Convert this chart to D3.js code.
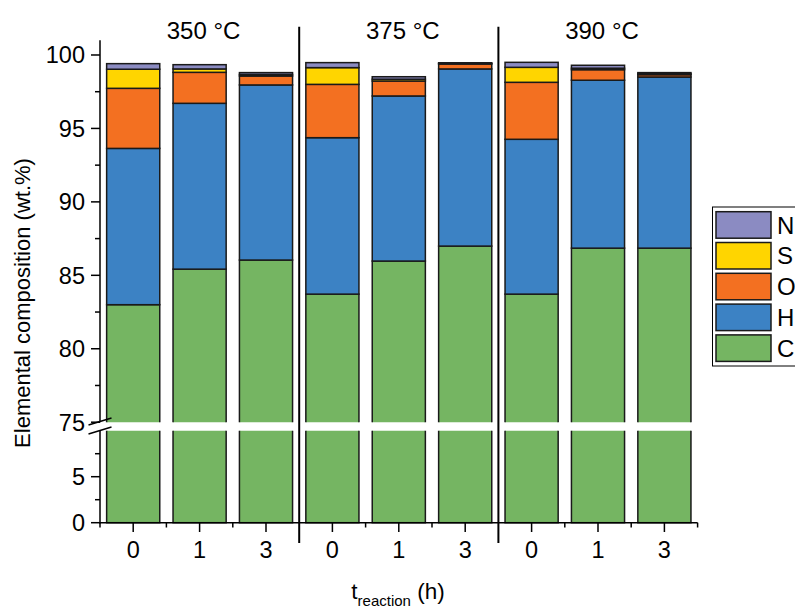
<!DOCTYPE html>
<html>
<head>
<meta charset="utf-8">
<script src="https://cdn.jsdelivr.net/npm/d3@7"></script>
<style>
  html, body { margin: 0; padding: 0; background: #fff; }
  svg { display: block; font-family: "Liberation Sans", Arial, sans-serif; }
</style>
</head>
<body>
<svg id="chart" width="795" height="608"></svg>
<script>
// ---- data ----
const temps = ["350 °C", "375 °C", "390 °C"];
const times = ["0", "1", "3"];
const elements = ["C", "H", "O", "S", "N"];
const C = [83.00, 85.42, 86.04, 83.72, 85.97, 86.99, 83.72, 86.85, 86.85];
const H = [10.64, 11.29, 11.92, 10.65, 11.24, 12.06, 10.54, 11.43, 11.65];
const O = [4.09, 2.11, 0.61, 3.63, 1.02, 0.34, 3.88, 0.72, 0.16];
const S = [1.30, 0.23, 0.10, 1.14, 0.12, 0.03, 1.02, 0.10, 0.06];
const N = [0.38, 0.29, 0.13, 0.34, 0.17, 0.05, 0.34, 0.20, 0.08];
const upperTicks = [75, 80, 85, 90, 95, 100];
const lowerTicks = [0, 5];
const colors = { C: "#75b562", H: "#3c82c4", O: "#f37021", S: "#ffd500", N: "#8b8bc2" };

// ---- build table ----
const cats = [];
temps.forEach(t => times.forEach(h => cats.push(t + "|" + h)));
const series = { C, H, O, S, N };
const rows = cats.map((k, i) => {
  const r = { key: k };
  elements.forEach(e => r[e] = series[e][i]);
  return r;
});
const stacked = d3.stack().keys(elements)(rows);

const svg = d3.select("#chart");
const x = d3.scaleBand().domain(cats).range([100, 697.6]).paddingInner(0.2).paddingOuter(0.1);
const yU = d3.scaleLinear().domain([75, 101]).range([422.2, 40.3]);
const yL = d3.scaleLinear().domain([0, 10]).range([522.7, 430.7]);

const defs = svg.append("defs");
defs.append("clipPath").attr("id", "clipU").append("rect")
  .attr("x", 100).attr("y", 20).attr("width", 600).attr("height", 422.2 - 20);
defs.append("clipPath").attr("id", "clipL").append("rect")
  .attr("x", 100).attr("y", 430.7).attr("width", 600).attr("height", 522.7 - 430.7 + 2);

function drawBars(y, clip) {
  const g = svg.append("g").attr("clip-path", `url(#${clip})`);
  g.selectAll("g.layer").data(stacked).join("g")
    .attr("class", "layer")
    .attr("fill", d => colors[d.key])
    .selectAll("rect").data(d => d).join("rect")
    .attr("x", d => x(d.data.key))
    .attr("width", x.bandwidth())
    .attr("y", d => y(d[1]))
    .attr("height", d => Math.max(0, y(d[0]) - y(d[1])))
    .attr("stroke", "#1a1a1a")
    .attr("stroke-width", 1.5);
}
drawBars(yU, "clipU");
drawBars(yL, "clipL");

const axisG = svg.append("g").attr("stroke", "#000").attr("fill", "none");

// Y axis lines
axisG.append("line").attr("x1", 100).attr("x2", 100).attr("y1", 40.3).attr("y2", 422.2).attr("stroke-width", 1.5);
axisG.append("line").attr("x1", 100).attr("x2", 100).attr("y1", 430.7).attr("y2", 523.4).attr("stroke-width", 1.5);

// Y ticks
const minorU = d3.range(77.5, 101, 5);
upperTicks.forEach(v => axisG.append("line").attr("x1", 91).attr("x2", 100).attr("y1", yU(v)).attr("y2", yU(v)).attr("stroke-width", 1.5));
minorU.forEach(v => axisG.append("line").attr("x1", 95).attr("x2", 100).attr("y1", yU(v)).attr("y2", yU(v)).attr("stroke-width", 1.5));
const minorL = [2.5, 7.5];
lowerTicks.forEach(v => axisG.append("line").attr("x1", 91).attr("x2", 100).attr("y1", yL(v)).attr("y2", yL(v)).attr("stroke-width", 1.5));
minorL.forEach(v => axisG.append("line").attr("x1", 95).attr("x2", 100).attr("y1", yL(v)).attr("y2", yL(v)).attr("stroke-width", 1.5));

// break marks
axisG.append("line").attr("x1", 88.5).attr("y1", 425).attr("x2", 111.5).attr("y2", 418).attr("stroke-width", 1.5);
axisG.append("line").attr("x1", 88.5).attr("y1", 434).attr("x2", 111.5).attr("y2", 427).attr("stroke-width", 1.5);

// Y tick labels
const tl = svg.append("g").attr("font-size", 23.5).attr("fill", "#000").attr("text-anchor", "end");
upperTicks.forEach(v => tl.append("text").attr("x", 85).attr("y", yU(v)).attr("dy", "0.36em").text(v));
lowerTicks.forEach(v => tl.append("text").attr("x", 85).attr("y", yL(v)).attr("dy", "0.36em").text(v));

// X axis
axisG.append("line").attr("x1", 99.3).attr("x2", 697.6).attr("y1", 522.7).attr("y2", 522.7).attr("stroke-width", 1.5);
const step = x.step();
cats.forEach(k => {
  const cx = x(k) + x.bandwidth() / 2;
  axisG.append("line").attr("x1", cx).attr("x2", cx).attr("y1", 522.7).attr("y2", 532).attr("stroke-width", 1.5);
});
for (let i = 0; i <= cats.length; i++) {
  const bx = 100 + i * step;
  if (i === 3 || i === 6) continue;
  axisG.append("line").attr("x1", bx).attr("x2", bx).attr("y1", 522.7).attr("y2", 527.5).attr("stroke-width", 1.5);
}
// group separators
[3, 6].forEach(i => {
  const bx = 100 + i * step;
  axisG.append("line").attr("x1", bx).attr("x2", bx).attr("y1", 26.7).attr("y2", 543).attr("stroke-width", 2);
});

// X tick labels
const xl = svg.append("g").attr("font-size", 23.5).attr("fill", "#000").attr("text-anchor", "middle");
cats.forEach(k => {
  xl.append("text").attr("x", x(k) + x.bandwidth() / 2).attr("y", 558).text(k.split("|")[1]);
});

// group labels
temps.forEach(t => {
  const mid = x(t + "|" + times[1]) + x.bandwidth() / 2;
  svg.append("text").attr("x", mid + 4).attr("y", 38.5).attr("font-size", 24).attr("text-anchor", "middle").text(t);
});

// axis titles
svg.append("text").attr("transform", "translate(29.5,303) rotate(-90)")
  .attr("text-anchor", "middle").attr("font-size", 22).text("Elemental composition (wt.%)");
const xt = svg.append("text").attr("x", 398).attr("y", 599).attr("text-anchor", "middle").attr("font-size", 22.5);
xt.append("tspan").text("t");
xt.append("tspan").attr("font-size", 15).attr("dy", 7).text("reaction");
xt.append("tspan").attr("dy", -7).text(" (h)");

// legend
const lg = svg.append("g");
lg.append("rect").attr("x", 712.5).attr("y", 207).attr("width", 120).attr("height", 159)
  .attr("fill", "#fff").attr("stroke", "#000").attr("stroke-width", 1);
const legOrder = elements.slice().reverse();
legOrder.forEach((e, i) => {
  const yy = 211.7 + i * 30.8;
  lg.append("rect").attr("x", 716).attr("y", yy).attr("width", 55).attr("height", 26.5)
    .attr("fill", colors[e]).attr("stroke", "#1a1a1a").attr("stroke-width", 1.5);
  lg.append("text").attr("x", 777).attr("y", yy + 13.3).attr("dy", "0.36em").attr("font-size", 24).text(e);
});
</script>
</body>
</html>
